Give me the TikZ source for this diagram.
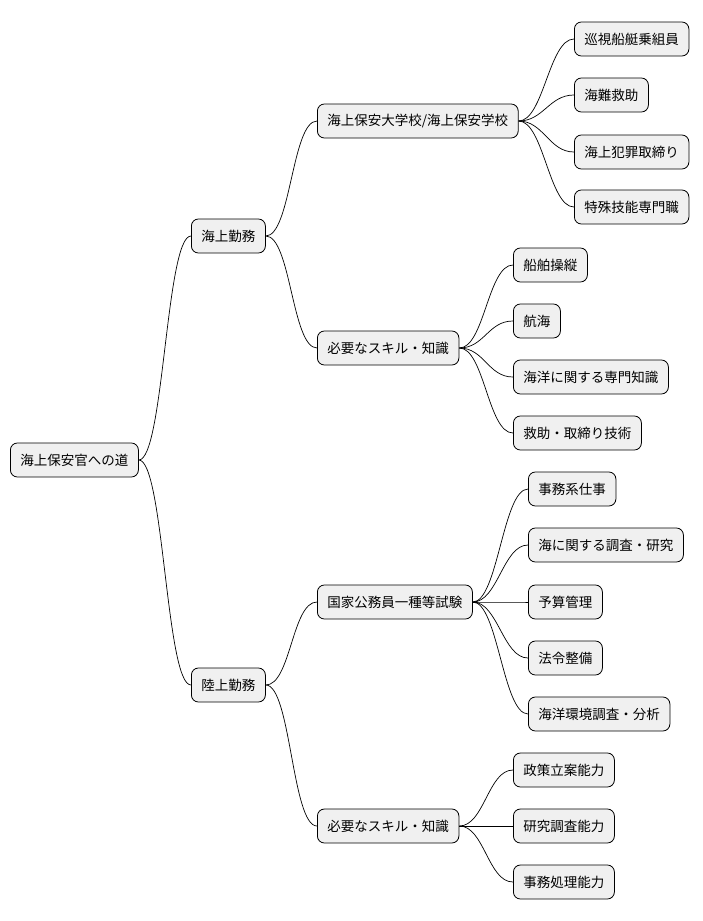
\documentclass[tikz,border=0pt]{standalone}
\usepackage{fontspec}
\setmainfont{Noto Sans CJK JP}
\begin{document}
\begin{tikzpicture}[x=1pt,y=-1pt,
  box/.style={draw=black,fill=black!6,rounded corners=7pt,line width=0.8pt,minimum height=34pt,inner xsep=10pt,anchor=west,font=\fontsize{13.5}{15}\selectfont},
  link/.style={line width=0.7pt}]
\useasboundingbox (0,0) rectangle (703,921);
\node[box] (r) at (10,460) {海上保安官への道};
\node[box] (a) at (191,236) {海上勤務};
\node[box] (b) at (191,685) {陸上勤務};
\node[box] (a1) at (317,121) {海上保安大学校/海上保安学校};
\node[box] (a2) at (317,348) {必要なスキル・知識};
\node[box] (b1) at (317,602) {国家公務員一種等試験};
\node[box] (b2) at (317,826) {必要なスキル・知識};
\node[box] (a11) at (574,39) {巡視船艇乗組員};
\node[box] (a12) at (574,95) {海難救助};
\node[box] (a13) at (574,152) {海上犯罪取締り};
\node[box] (a14) at (574,207) {特殊技能専門職};
\node[box] (a21) at (513,265) {船舶操縦};
\node[box] (a22) at (513,321) {航海};
\node[box] (a23) at (513,377) {海洋に関する専門知識};
\node[box] (a24) at (513,433) {救助・取締り技術};
\node[box] (b11) at (528,489) {事務系仕事};
\node[box] (b12) at (528,545) {海に関する調査・研究};
\node[box] (b13) at (528,602) {予算管理};
\node[box] (b14) at (528,658) {法令整備};
\node[box] (b15) at (528,714) {海洋環境調査・分析};
\node[box] (b21) at (513,770) {政策立案能力};
\node[box] (b22) at (513,826) {研究調査能力};
\node[box] (b23) at (513,882) {事務処理能力};
\foreach \p/\c in {r/a,r/b,a/a1,a/a2,b/b1,b/b2,a1/a11,a1/a12,a1/a13,a1/a14,a2/a21,a2/a22,a2/a23,a2/a24,b1/b11,b1/b12,b1/b13,b1/b14,b1/b15,b2/b21,b2/b22,b2/b23}{
  \draw[link] (\p.east) .. controls +(25,0) and +(-25,0) .. (\c.west);
}
\end{tikzpicture}
\end{document}
